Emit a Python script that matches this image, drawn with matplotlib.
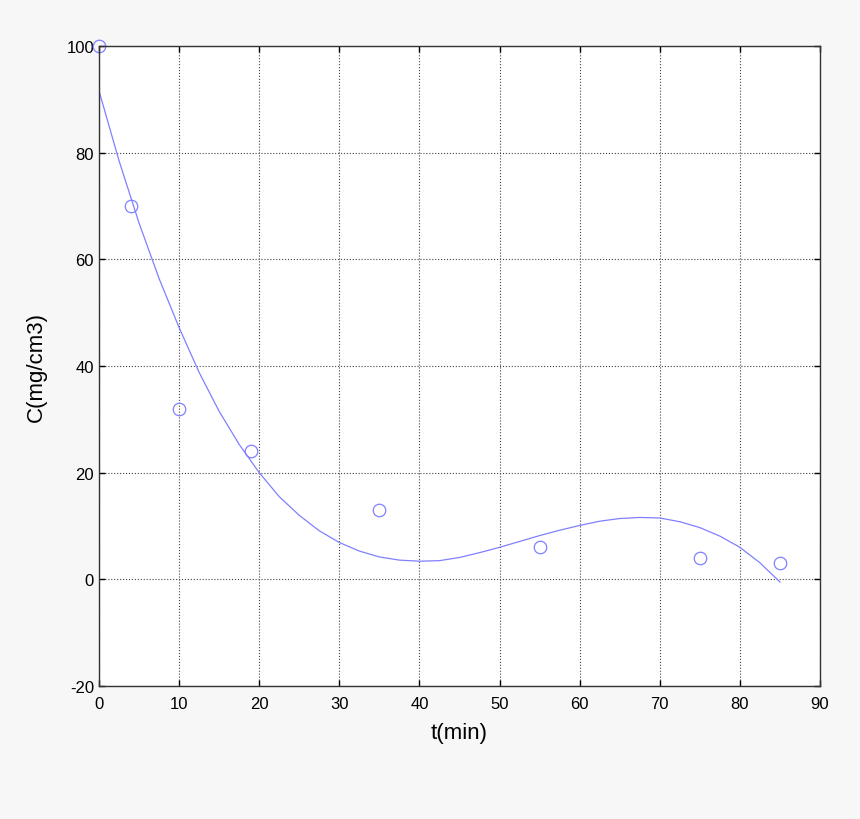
import matplotlib.pyplot as plt

plt.rcParams['font.family'] = ['Liberation Sans', 'DejaVu Sans']
plt.rcParams['axes.unicode_minus'] = False

# measured points
t_data = [0, 4, 10, 19, 35, 55, 75, 85]
c_data = [100, 70, 32, 24, 13, 6, 4, 3]

# fitted curve
t_fit = [0, 2.5, 5, 7.5, 10, 12.5, 15, 17.5, 20, 22.5, 25, 27.5, 30, 32.5,
         35, 37.5, 40, 42.5, 45, 47.5, 50, 52.5, 55, 57.5, 60, 62.5, 65,
         67.5, 70, 72.5, 75, 77.5, 80, 82.5, 85]
c_fit = [91.6, 78.5, 66.8, 56.4, 47.2, 38.8, 31.5, 25.3, 20.0, 15.5, 12.0,
         9.1, 6.9, 5.3, 4.2, 3.6, 3.4, 3.5, 4.1, 5.0, 6.0, 7.1, 8.2, 9.2,
         10.1, 10.9, 11.4, 11.6, 11.5, 10.8, 9.7, 8.1, 6.0, 3.1, -0.5]

fig = plt.figure(figsize=(8.6, 8.2), dpi=100, facecolor='#f7f7f7')
ax = fig.add_axes([0.1151, 0.1622, 0.8384, 0.7805])
ax.set_facecolor('white')

ax.plot(t_fit, c_fit, color='#8080ff', lw=0.9)
ax.plot(t_data, c_data, 'o', mfc='none', mec='#8080ff', ms=9, mew=0.9,
        clip_on=False)

ax.set_xlim(0, 90)
ax.set_ylim(-20, 100)
ax.set_xticks(range(0, 91, 10))
ax.set_yticks(range(-20, 101, 20))
ax.grid(True, color='#444444', linestyle=':', linewidth=0.8)
ax.tick_params(direction='in', length=4, width=1, top=True, right=True,
               labelsize=12, colors='black')
ax.tick_params(axis='x', pad=7)
for s in ax.spines.values():
    s.set_linewidth(1.0)
    s.set_color('#333333')

ax.set_xlabel('t(min)', fontsize=16, labelpad=8)
ax.set_ylabel('C(mg/cm3)', fontsize=16, labelpad=14)

fig.savefig('out.png', dpi=100, facecolor=fig.get_facecolor())
